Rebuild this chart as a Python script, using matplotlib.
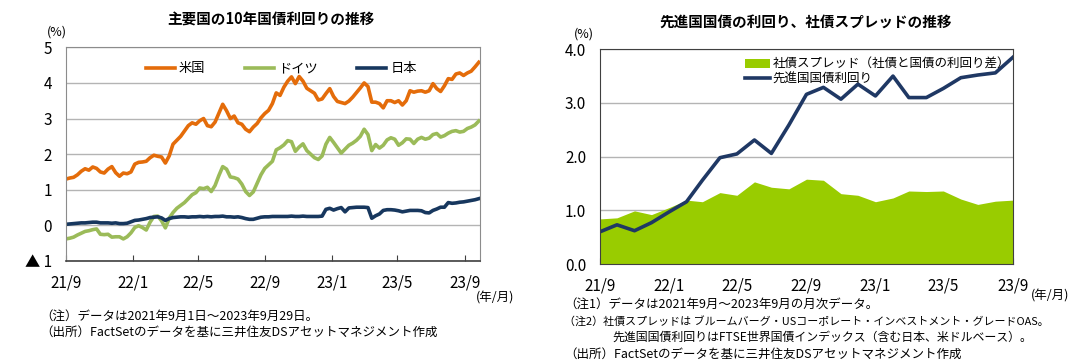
import matplotlib
matplotlib.use("Agg")
import matplotlib.pyplot as plt
from matplotlib.lines import Line2D
from matplotlib.patches import Patch
import pandas as pd

plt.rcParams["font.family"] = ["Noto Sans CJK JP", "DejaVu Sans"]

# ---- left chart: 10y government bond yields (weekly readings, %) ----
weekly_start = "2021-09-01"
us_10y = [
    1.30, 1.33, 1.35, 1.42, 1.52, 1.59, 1.55, 1.64, 1.60, 1.50,
    1.47, 1.58, 1.65, 1.48, 1.38, 1.47, 1.45, 1.50, 1.72, 1.77,
    1.78, 1.80, 1.90, 1.97, 1.94, 1.92, 1.75, 1.95, 2.28, 2.39,
    2.50, 2.65, 2.80, 2.88, 2.84, 2.94, 3.00, 2.80, 2.77, 2.90,
    3.15, 3.40, 3.22, 3.00, 3.07, 2.88, 2.84, 2.70, 2.63, 2.76,
    2.86, 3.02, 3.14, 3.23, 3.42, 3.72, 3.65, 3.88, 4.05, 4.17,
    3.98, 4.18, 4.05, 3.85, 3.78, 3.71, 3.52, 3.55, 3.70, 3.84,
    3.62, 3.48, 3.45, 3.42, 3.49, 3.60, 3.73, 3.86, 4.00, 3.90,
    3.46, 3.46, 3.42, 3.30, 3.50, 3.50, 3.45, 3.50, 3.38, 3.50,
    3.78, 3.74, 3.77, 3.78, 3.74, 3.78, 3.98, 3.84, 3.76, 3.92,
    4.12, 4.10, 4.25, 4.28, 4.21, 4.28, 4.33, 4.45, 4.58,
]
de_10y = [
    -0.38, -0.36, -0.33, -0.27, -0.22, -0.17, -0.15, -0.12, -0.10, -0.25,
    -0.26, -0.25, -0.33, -0.32, -0.32, -0.38, -0.32, -0.21, -0.06, -0.01,
    -0.06, -0.13, 0.09, 0.25, 0.26, 0.13, -0.07, 0.20, 0.36, 0.48,
    0.56, 0.64, 0.75, 0.86, 0.92, 1.05, 1.03, 1.07, 0.95, 1.12,
    1.40, 1.65, 1.58, 1.36, 1.34, 1.30, 1.16, 0.95, 0.84, 0.94,
    1.18, 1.42, 1.60, 1.70, 1.80, 2.12, 2.18, 2.26, 2.38, 2.35,
    2.08, 2.20, 2.29, 2.10, 2.00, 1.90, 1.85, 1.95, 2.28, 2.47,
    2.33, 2.18, 2.03, 2.14, 2.25, 2.31, 2.39, 2.50, 2.70, 2.55,
    2.10, 2.27, 2.17, 2.25, 2.40, 2.46, 2.42, 2.25, 2.32, 2.43,
    2.42, 2.30, 2.42, 2.47, 2.42, 2.45, 2.55, 2.58, 2.48, 2.52,
    2.59, 2.64, 2.66, 2.62, 2.64, 2.72, 2.76, 2.82, 2.93,
]
jp_10y = [
    0.03, 0.04, 0.05, 0.06, 0.07, 0.07, 0.08, 0.09, 0.09, 0.07,
    0.07, 0.07, 0.06, 0.07, 0.05, 0.05, 0.06, 0.10, 0.14, 0.15,
    0.17, 0.19, 0.22, 0.23, 0.24, 0.21, 0.14, 0.19, 0.22, 0.23,
    0.24, 0.24, 0.23, 0.24, 0.24, 0.25, 0.24, 0.25, 0.24, 0.25,
    0.25, 0.26, 0.24, 0.24, 0.23, 0.24, 0.22, 0.19, 0.17, 0.17,
    0.20, 0.23, 0.24, 0.24, 0.25, 0.25, 0.25, 0.25, 0.25, 0.26,
    0.25, 0.25, 0.26, 0.25, 0.25, 0.25, 0.25, 0.26, 0.45, 0.48,
    0.43, 0.47, 0.50, 0.38, 0.49, 0.50, 0.51, 0.51, 0.51, 0.50,
    0.20, 0.27, 0.32, 0.42, 0.44, 0.44, 0.43, 0.41, 0.38, 0.40,
    0.42, 0.42, 0.42, 0.41, 0.36, 0.35, 0.42, 0.46, 0.51, 0.51,
    0.64, 0.62, 0.63, 0.65, 0.66, 0.68, 0.70, 0.72, 0.75,
]

# ---- right chart: monthly, %  ----
monthly_start = "2021-09-01"
spread = [
    0.84, 0.86, 0.99, 0.92, 1.05, 1.19, 1.16, 1.33, 1.28, 1.53,
    1.43, 1.40, 1.58, 1.56, 1.31, 1.28, 1.16, 1.23, 1.36, 1.35,
    1.36, 1.21, 1.11, 1.17, 1.19,
]
dev_yield = [
    0.60, 0.73, 0.62, 0.77, 0.97, 1.16, 1.56, 1.98, 2.05, 2.31,
    2.06, 2.59, 3.16, 3.29, 3.07, 3.35, 3.13, 3.50, 3.10, 3.10,
    3.27, 3.47, 3.52, 3.56, 3.85,
]

tick_dates = ["2021-09-01", "2022-01-01", "2022-05-01", "2022-09-01",
              "2023-01-01", "2023-05-01", "2023-09-01"]
tick_labels = ["21/9", "22/1", "22/5", "22/9", "23/1", "23/5", "23/9"]

c_us = "#E46C0A"
c_de = "#9BBB59"
c_jp = "#17375E"
c_area = "#99CC00"
c_line = "#1F3864"

w_dates = pd.date_range(weekly_start, periods=len(us_10y), freq="7D")
m_dates = pd.date_range(monthly_start, periods=len(spread), freq="MS")
ticks = pd.to_datetime(tick_dates)

fig = plt.figure(figsize=(10.78, 3.64), dpi=100)

# left
ax1 = fig.add_axes([0.0612, 0.283, 0.384, 0.587])
ax1.plot(w_dates, us_10y, color=c_us, lw=2.6, label="米国")
ax1.plot(w_dates, de_10y, color=c_de, lw=2.6, label="ドイツ")
ax1.plot(w_dates, jp_10y, color=c_jp, lw=2.6, label="日本")
ax1.set_xlim(pd.Timestamp("2021-09-01"), pd.Timestamp("2023-09-29"))
ax1.set_ylim(-1, 5)
ax1.set_yticks(range(-1, 6))
ax1.set_yticklabels(["▲ 1", "0", "1", "2", "3", "4", "5"])
ax1.set_xticks(ticks)
ax1.set_xticklabels(tick_labels)
ax1.grid(axis="y", color="#b4b4b4", lw=1)
ax1.set_axisbelow(True)
for s in ["top", "right", "left"]:
    ax1.spines[s].set_color("#8c8c8c")
ax1.spines["bottom"].set_color("#404040")
ax1.spines["bottom"].set_linewidth(1.2)
ax1.tick_params(axis="y", length=0, labelsize=11, pad=10)
ax1.tick_params(axis="x", direction="in", length=4, labelsize=11, pad=10, color="#404040")
ax1.legend(loc="upper center", bbox_to_anchor=(0.52, 0.985), ncol=3, frameon=False,
           fontsize=9.5, handlelength=2.2, columnspacing=3.0, handletextpad=0.3)

# right
ax2 = fig.add_axes([0.5566, 0.2747, 0.383, 0.590])
ax2.fill_between(m_dates, 0, spread, color=c_area, lw=0, zorder=2)
ax2.plot(m_dates, dev_yield, color=c_line, lw=2.6, zorder=3)
ax2.set_xlim(m_dates[0], m_dates[-1])
ax2.set_ylim(0, 4)
ax2.set_yticks([0, 1, 2, 3, 4])
ax2.set_yticklabels(["0.0", "1.0", "2.0", "3.0", "4.0"])
ax2.set_xticks(ticks)
ax2.set_xticklabels(tick_labels)
ax2.grid(axis="y", color="#b4b4b4", lw=1, zorder=0)
ax2.set_axisbelow(True)
for s in ax2.spines.values():
    s.set_color("#404040")
    s.set_zorder(4)
ax2.tick_params(axis="y", length=0, labelsize=11, pad=10)
ax2.tick_params(axis="x", direction="in", length=4, labelsize=11, pad=10, color="#404040")
handles = [Patch(color=c_area, lw=0), Line2D([], [], color=c_line, lw=2.6)]
ax2.legend(handles, ["社債スプレッド（社債と国債の利回り差）", "先進国国債利回り"],
           loc="upper left", bbox_to_anchor=(0.33, 1.0), frameon=False,
           fontsize=9, handlelength=2.0, handletextpad=0.2, labelspacing=0.15,
           borderaxespad=0.3)

# titles and labels
fig.text(0.251, 0.945, "主要国の10年国債利回りの推移", ha="center", va="center",
         fontsize=10.5, fontweight="bold")
fig.text(0.747, 0.94, "先進国国債の利回り、社債スプレッドの推移", ha="center", va="center",
         fontsize=10.5, fontweight="bold")
fig.text(0.053, 0.912, "(%)", ha="center", va="center", fontsize=9)
fig.text(0.542, 0.907, "(%)", ha="center", va="center", fontsize=9)
fig.text(0.441, 0.182, "(年/月)", ha="left", va="center", fontsize=9)
fig.text(0.956, 0.186, "(年/月)", ha="left", va="center", fontsize=9)

notes_l = ["（注）データは2021年9月1日～2023年9月29日。",
           "（出所）FactSetのデータを基に三井住友DSアセットマネジメント作成"]
for i, t in enumerate(notes_l):
    fig.text(0.037, 0.132 - i * 0.045, t, ha="left", va="center", fontsize=9)

notes_r = ["（注1）データは2021年9月～2023年9月の月次データ。",
           "（注2）社債スプレッドは ブルームバーグ・USコーポレート・インベストメント・グレードOAS。",
           "先進国国債利回りはFTSE世界国債インデックス（含む日本、米ドルベース）。",
           "（出所）FactSetのデータを基に三井住友DSアセットマネジメント作成"]
note_x = [0.523, 0.523, 0.568, 0.523]
note_size = [9, 7.9, 8.6, 9]
for i, t in enumerate(notes_r):
    fig.text(note_x[i], 0.163 - i * 0.045, t, ha="left", va="center",
             fontsize=note_size[i])

fig.savefig("out.png", dpi=100)
